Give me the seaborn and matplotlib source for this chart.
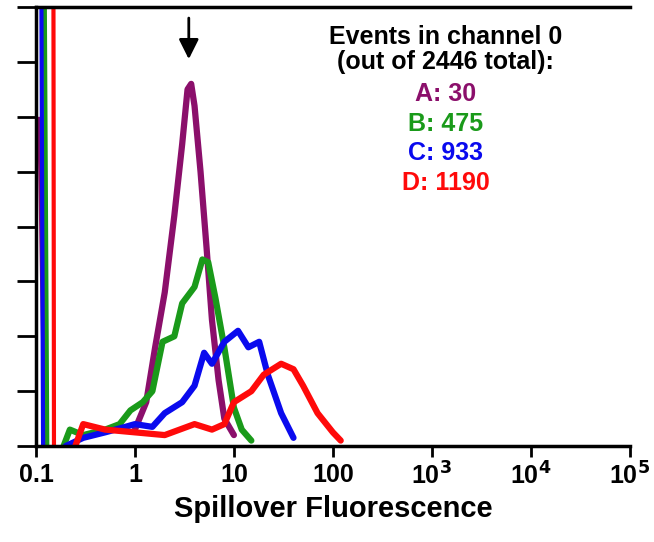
import numpy as np
import pandas as pd
import matplotlib.pyplot as plt
import seaborn as sns

# histogram outlines (x = fluorescence, y = counts in tick units)
a_x = [1.0, 1.3, 1.6, 2, 2.5, 3, 3.4, 3.7, 4.0, 4.6, 5.3, 6, 7, 8, 10]
a_y = [0.3, 0.8, 1.8, 2.8, 4.2, 5.5, 6.5, 6.6, 6.2, 5.0, 3.6, 2.3, 1.2, 0.5, 0.2]
b_x = [0.19, 0.22, 0.3, 0.5, 0.7, 0.9, 1.2, 1.5, 1.9, 2.5, 3, 4, 4.8, 5.5, 6.5, 8, 10, 12, 15]
b_y = [0.0, 0.3, 0.2, 0.3, 0.4, 0.65, 0.8, 1.0, 1.9, 2.0, 2.6, 2.9, 3.4, 3.35, 2.7, 1.8, 0.7, 0.3, 0.1]
c_x = [0.2, 0.3, 0.5, 0.8, 1, 1.5, 2, 3, 4, 5, 6, 8, 11, 14, 18, 22, 30, 40]
c_y = [0.0, 0.15, 0.25, 0.35, 0.4, 0.35, 0.6, 0.8, 1.1, 1.7, 1.5, 1.9, 2.1, 1.8, 1.9, 1.3, 0.6, 0.15]
d_x = [0.25, 0.3, 0.5, 1, 2, 4, 6, 8, 10, 15, 20, 30, 40, 50, 70, 100, 120]
d_y = [0.0, 0.4, 0.3, 0.25, 0.2, 0.4, 0.3, 0.4, 0.8, 1.0, 1.3, 1.5, 1.4, 1.1, 0.6, 0.25, 0.1]
# channel-0 spikes: (x top, x bottom, y top)
spikes = {"A": (0.11, 0.125, 6.0), "B": (0.122, 0.13, 9.0), "C": (0.113, 0.118, 9.0), "D": (0.15, 0.152, 9.0)}
labels = ["A: 30", "B: 475", "C: 933", "D: 1190"]
colors = {"A": "#8b0f6b", "B": "#1a9a1a", "C": "#0a0aee", "D": "#ff0a0a"}

rows = []
for k, xs, ys in [("A", a_x, a_y), ("B", b_x, b_y), ("C", c_x, c_y), ("D", d_x, d_y)]:
    for x, y in zip(xs, ys):
        rows.append({"x": x, "y": y, "s": k})
df = pd.DataFrame(rows)

sns.set_style("ticks")
plt.rcParams["font.family"] = ["Liberation Sans", "DejaVu Sans"]
plt.rcParams["text.color"] = "black"
plt.rcParams["xtick.color"] = "black"
plt.rcParams["axes.labelcolor"] = "black"
plt.rcParams["axes.edgecolor"] = "black"
plt.rcParams["mathtext.default"] = "bf"
fig = plt.figure(figsize=(6.54, 5.42), dpi=100)
ax = fig.add_axes([0.055, 0.177, 0.908, 0.81])

for k in ["A", "B", "C", "D"]:
    x0, x1, yt = spikes[k]
    ax.plot([x0, x1], [yt, 0], color=colors[k], lw=3 if k != "A" else 4, solid_capstyle="butt")
sns.lineplot(data=df, x="x", y="y", hue="s", palette=colors, lw=4.5, legend=False,
             ax=ax, sort=False)

ax.set_xscale("log")
ax.set_xlim(0.1, 1e5)
ax.set_ylim(0, 8)
ax.set_yticks(range(9))
ax.set_yticklabels([])
ax.set_xticks([0.1, 1, 10, 100, 1e3, 1e4, 1e5])
ax.set_xticklabels(["0.1", "1", "10", "100", r"10$^3$", r"10$^4$", r"10$^5$"],
                   fontsize=18, fontweight="bold")
ax.minorticks_off()
ax.tick_params(axis="both", width=2, length=14, direction="out", pad=4, colors="black")
ax.tick_params(axis="x", length=8)
for s in ["left", "top", "bottom"]:
    ax.spines[s].set_linewidth(2.5)
ax.spines["right"].set_visible(False)
ax.set_xlabel("Spillover Fluorescence", fontsize=21, fontweight="bold", labelpad=4)
ax.set_ylabel("")

ax.annotate("", xy=(3.5, 7.0), xytext=(3.5, 7.85),
            arrowprops=dict(arrowstyle="-|>", color="black", lw=2, mutation_scale=30))
ax.text(0.69, 0.96, "Events in channel 0\n(out of 2446 total):", transform=ax.transAxes,
        ha="center", va="top", fontsize=18, fontweight="bold", linespacing=1.05)
for i, (lab, k) in enumerate(zip(labels, ["A", "B", "C", "D"])):
    ax.text(0.69, 0.83 - i * 0.068, lab, transform=ax.transAxes, ha="center", va="top",
            fontsize=18, fontweight="bold", color=colors[k])

fig.savefig("out.png", dpi=100)
